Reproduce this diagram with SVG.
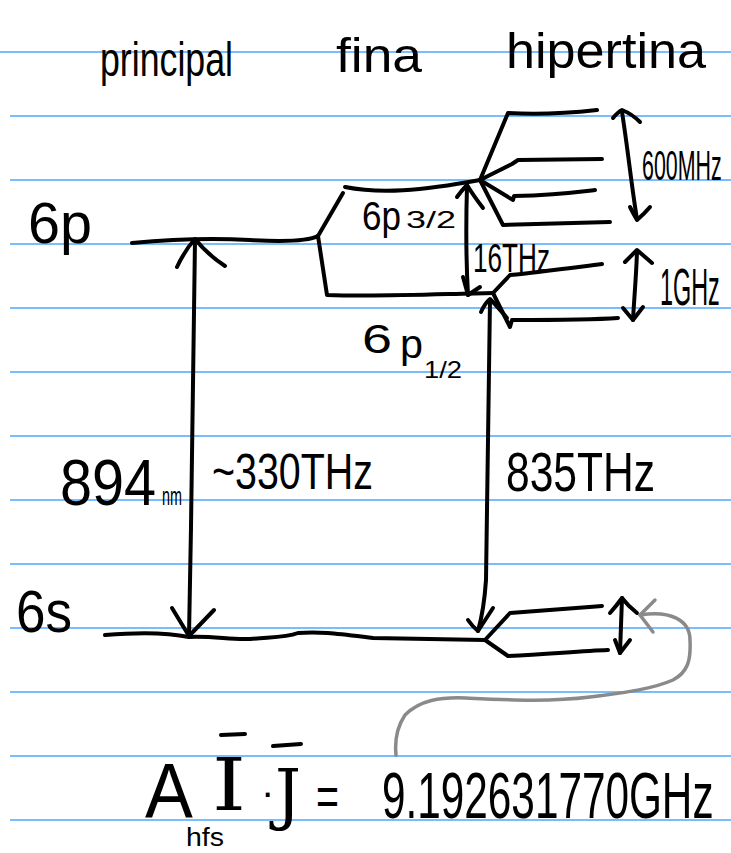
<svg xmlns="http://www.w3.org/2000/svg" width="731" height="853" viewBox="0 0 731 853">
<style>
.rule{stroke:#4da6ff;stroke-width:1.6;fill:none}
.ink{stroke:#000;stroke-width:4;fill:none;stroke-linecap:round;stroke-linejoin:round}
.grey{stroke:#8a8a8a;stroke-width:3.5;fill:none;stroke-linecap:round;stroke-linejoin:round}
text{font-family:"Liberation Sans","DejaVu Sans",sans-serif;fill:#000}
.serif{font-family:"DejaVu Serif","Liberation Serif",serif}
</style>
<rect width="731" height="853" fill="#fff"/>
<g id="paper">
<path class="rule" d="M0,52H731M10,116H731M10,180H731M10,244H731M10,308H731M10,372H731M10,436H731M10,500H731M10,564H731M10,628H731M10,692H731M10,756H731M10,820H731"/>
</g>
<g id="headers">
<text x="100" y="76" font-size="48" textLength="133" lengthAdjust="spacingAndGlyphs">principal</text>
<text x="336" y="72" font-size="48" textLength="86" lengthAdjust="spacingAndGlyphs">fina</text>
<text x="506" y="68" font-size="50" textLength="200" lengthAdjust="spacingAndGlyphs">hipertina</text>
</g>
<g id="level-6p">
<path class="ink" d="M132,243 Q195,237 250,240 T318,236"/>
<text x="28" y="243" font-size="57" textLength="64" lengthAdjust="spacingAndGlyphs">6p</text>
</g>
<g id="level-6p32">
<path class="ink" d="M318,236 L343,193"/>
<path class="ink" d="M345,187 C380,194 420,191 480,180"/>
<text x="362" y="230" font-size="40" textLength="39" lengthAdjust="spacingAndGlyphs">6p</text>
<text x="406" y="228" font-size="24" textLength="50" lengthAdjust="spacingAndGlyphs">3/2</text>
</g>
<g id="level-6p12">
<path class="ink" d="M318,236 L327,295 C380,297 440,294 493,293"/>
<text x="362" y="353" font-size="40" textLength="30" lengthAdjust="spacingAndGlyphs">6</text>
<text x="400" y="358" font-size="40" textLength="23" lengthAdjust="spacingAndGlyphs">p</text>
<text x="424" y="378" font-size="24" textLength="38" lengthAdjust="spacingAndGlyphs">1/2</text>
</g>
<g id="hyperfine-6p32">
<path class="ink" d="M480,180 L508,113 C540,115 570,113 597,110"/>
<path class="ink" d="M480,180 L512,164 L518,160 L602,159"/>
<path class="ink" d="M480,180 L513,200 L514,196 C555,195 578,192 595,190"/>
<path class="ink" d="M480,180 L503,225 L610,222"/>
</g>
<g id="hyperfine-6p12">
<path class="ink" d="M493,293 L510,275 C540,272 570,268 602,264"/>
<path class="ink" d="M493,293 L510,327 L512,320 C560,320 590,320 618,318"/>
</g>
<g id="level-6s">
<path class="ink" d="M105,635 C140,632 170,633 189,637 C215,636 230,640 250,639 C270,637 285,638 298,633 C320,631 340,634 373,638 L485,640"/>
<path class="ink" d="M485,640 L510,613 C550,610 575,608 602,606"/>
<path class="ink" d="M485,640 L508,656 C550,654 580,651 608,650"/>
<text x="16" y="632" font-size="60" textLength="56" lengthAdjust="spacingAndGlyphs">6s</text>
</g>
<g id="connectors">
<path class="ink" d="M195,240 C193,350 192,500 189,636"/>
<path class="ink" d="M177,267 Q185,250 195,239 Q208,255 225,266"/>
<path class="ink" d="M172,608 L189,636 L214,610"/>
<path class="ink" d="M490,300 C488,380 488,500 486,580 Q484,610 478,631"/>
<path class="ink" d="M481,312 Q485,303 490,299 Q497,306 507,318"/>
<path class="ink" d="M468,620 Q472,626 478,631 L493,608"/>
<path class="ink" d="M467,186 C466,220 466,260 468,295"/>
<path class="ink" d="M457,197 Q462,190 467,185 Q473,195 483,208"/>
<path class="ink" d="M463,277 L468,295 L480,287"/>
<path class="ink" d="M622,112 C628,150 632,190 637,219"/>
<path class="ink" d="M613,118 Q618,112 622,110 Q632,114 640,122"/>
<path class="ink" d="M630,207 Q633,213 637,220 Q645,213 650,207"/>
<path class="ink" d="M637,252 C636,280 634,300 633,320"/>
<path class="ink" d="M625,262 L637,250 L652,263"/>
<path class="ink" d="M623,308 L633,320 L643,307"/>
<path class="ink" d="M622,598 L620,653"/>
<path class="ink" d="M610,613 Q617,605 622,598 Q628,606 637,613"/>
<path class="ink" d="M615,640 L620,653 L630,640"/>
<path class="grey" d="M396,755 C395,745 395,730 405,715 C420,700 440,697 466,698 C510,700 550,702 590,697 C620,693 650,690 673,680 C688,672 691,660 690,640 C690,620 670,610 640,615"/>
<path class="grey" d="M655,600 L640,615 L653,632"/>
</g>
<g id="labels">
<text transform="translate(642,180) scale(0.51,1)" font-size="42">600MHz</text>
<text x="473" y="272" font-size="40" textLength="77" lengthAdjust="spacingAndGlyphs">16THz</text>
<text transform="translate(660,305) scale(0.45,1)" font-size="52">1GHz</text>
<text transform="translate(60,505) scale(0.9,1)" font-size="64">894</text>
<text x="162" y="505" font-size="26" textLength="20" lengthAdjust="spacingAndGlyphs">nm</text>
<text x="212" y="489" font-size="50" textLength="161" lengthAdjust="spacingAndGlyphs">~330THz</text>
<text x="506" y="491" font-size="56" textLength="149" lengthAdjust="spacingAndGlyphs">835THz</text>
</g>
<g id="formula">
<text transform="translate(145,818) scale(0.92,1)" font-size="78">A</text>
<text x="186" y="846" font-size="26" textLength="38" lengthAdjust="spacingAndGlyphs">hfs</text>
<text class="serif" x="212" y="810" font-size="72" textLength="34" lengthAdjust="spacingAndGlyphs">I</text>
<text x="261" y="806" font-size="40">·</text>
<text class="serif" x="275" y="817" font-size="68" textLength="26" lengthAdjust="spacingAndGlyphs">J</text>
<path class="ink" d="M221,735 L245,734 M273,746 L301,744"/>
<text x="316" y="815" font-size="56" textLength="23" lengthAdjust="spacingAndGlyphs">=</text>
<text transform="translate(382,818) scale(0.661,1)" font-size="64">9.192631770GHz</text>
</g>
</svg>
